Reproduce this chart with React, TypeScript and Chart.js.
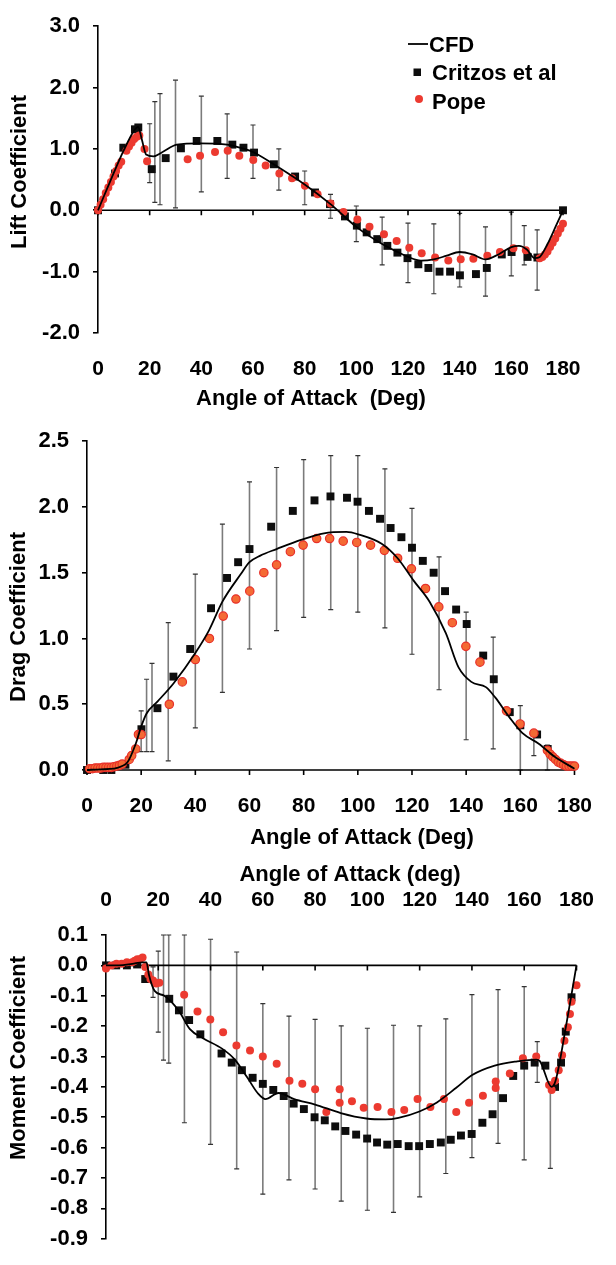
import React, { useEffect, useRef } from "react";
import { Chart, registerables } from "chart.js";
Chart.register(...registerables);

const FONT = "'Liberation Sans', Arial, Helvetica, sans-serif";

// ---------------- Lift ----------------
const liftCfdX = [0, 5, 10, 14, 15.5, 17, 18.6, 21.5, 25, 30.5, 39.5, 50, 56.6, 60, 68, 80, 90, 100, 110, 116, 120, 125, 130, 135, 140, 145, 150, 155, 160, 163, 166, 169, 171, 174, 177, 180];
const liftCfdY = [0, 0.5, 0.98, 1.3, 1.36, 1.15, 0.91, 0.88, 0.95, 1.07, 1.09, 1.07, 1.0, 0.95, 0.75, 0.42, 0.1, -0.27, -0.55, -0.68, -0.76, -0.82, -0.8, -0.74, -0.68, -0.72, -0.8, -0.72, -0.6, -0.58, -0.64, -0.78, -0.76, -0.55, -0.28, 0];
const liftCritX = [0, 6.6, 9.8, 14.3, 15.6, 20.8, 26.2, 32.1, 38.2, 46.2, 52, 56.3, 60.4, 68.1, 76.3, 84, 89.8, 95.6, 100.2, 104, 108.1, 112, 115.9, 119.8, 124, 127.9, 132.2, 136.3, 140.1, 146.3, 150.5, 156.3, 160.1, 166.3, 170.1, 180];
const liftCritY = [0, 0.6, 1.02, 1.32, 1.35, 0.67, 0.85, 1.01, 1.13, 1.13, 1.07, 1.02, 0.94, 0.75, 0.55, 0.29, 0.1, -0.1, -0.25, -0.36, -0.47, -0.58, -0.69, -0.78, -0.88, -0.94, -1.0, -1.0, -1.06, -1.04, -0.94, -0.72, -0.68, -0.76, -0.77, 0];
const liftPopeX = [0, 1, 2, 3, 4, 5, 6, 7, 8, 9, 11, 12, 13, 14, 15, 16, 18, 19, 34.7, 39.5, 45.3, 50.2, 54.7, 60.1, 64.9, 70.2, 75.1, 80.1, 85, 90, 95, 100.4, 105.1, 110.7, 115.6, 120.5, 125.3, 130.5, 135.6, 140.4, 145.3, 150.7, 155.6, 160.8, 165.6, 171, 172, 173, 174, 175, 176, 177, 178, 179, 180];
const liftPopeY = [0, 0.09, 0.18, 0.28, 0.37, 0.46, 0.55, 0.64, 0.73, 0.79, 0.97, 1.04, 1.1, 1.16, 1.2, 1.22, 1.0, 0.8, 0.83, 0.89, 0.95, 0.97, 0.89, 0.82, 0.73, 0.6, 0.52, 0.4, 0.26, 0.11, -0.03, -0.15, -0.27, -0.39, -0.5, -0.61, -0.7, -0.77, -0.82, -0.8, -0.79, -0.74, -0.68, -0.62, -0.65, -0.78, -0.76, -0.72, -0.67, -0.6, -0.53, -0.46, -0.38, -0.3, -0.22];
const liftErrX = [20, 22, 24, 30, 40, 50, 60, 70, 80, 90, 100, 110, 120, 130, 140, 150, 160, 165, 170];
const liftErrLow = [0.45, 0.13, 0.09, 0.04, 0.3, 0.52, 0.52, 0.33, 0.09, -0.13, -0.51, -0.89, -1.18, -1.36, -1.25, -1.4, -1.07, -0.89, -1.3];
const liftErrHigh = [1.41, 1.77, 1.9, 2.12, 1.86, 1.57, 1.39, 1.0, 0.64, 0.26, 0.07, -0.11, -0.21, -0.22, -0.05, -0.27, -0.03, -0.25, -0.32];

// ---------------- Drag ----------------
const dragCfdX = [0, 5, 10, 13, 15, 18, 20, 22, 26, 32, 40, 45, 50, 56.8, 60, 64, 70, 79, 87.5, 95.8, 100.4, 108.8, 114.7, 120.6, 126.5, 132.5, 137.2, 141.9, 147.3, 150.8, 156, 160.8, 166.8, 172.7, 180];
const dragCfdY = [0, 0.005, 0.01, 0.03, 0.06, 0.2, 0.33, 0.43, 0.52, 0.66, 0.89, 1.06, 1.28, 1.49, 1.58, 1.63, 1.68, 1.75, 1.8, 1.81, 1.79, 1.72, 1.61, 1.44, 1.28, 1.04, 0.78, 0.67, 0.63, 0.55, 0.4, 0.28, 0.2, 0.1, 0.01];
const dragCritX = [0, 6, 9, 14.2, 20.1, 26, 31.9, 38.1, 45.8, 51.7, 55.8, 60, 68, 76, 84, 89.9, 96, 99.9, 104.1, 108.2, 112.1, 116.1, 120, 124, 128, 132.2, 136.3, 140.2, 146.3, 150.2, 156.1, 160, 166.2, 170.1];
const dragCritY = [0, 0, 0, 0.04, 0.31, 0.47, 0.71, 0.92, 1.23, 1.46, 1.58, 1.68, 1.85, 1.97, 2.05, 2.08, 2.07, 2.04, 1.97, 1.91, 1.84, 1.77, 1.69, 1.59, 1.5, 1.36, 1.22, 1.11, 0.87, 0.69, 0.44, 0.34, 0.27, 0.16];
const dragPopeX = [1, 2, 3, 4, 5, 6, 7, 8, 9, 10, 11, 12, 13, 15.6, 16.5, 18, 19, 20, 30.4, 35.2, 40, 45.2, 50.3, 55, 60.1, 65.3, 70, 75.1, 79.8, 84.8, 89.6, 94.6, 99.6, 104.7, 109.8, 114.7, 119.8, 125, 129.9, 134.9, 139.9, 145.1, 154.9, 159.9, 165, 170, 171, 172, 173, 174, 175, 176, 177, 178, 179, 180];
const dragPopeY = [0.01, 0.01, 0.015, 0.015, 0.015, 0.02, 0.02, 0.02, 0.02, 0.025, 0.03, 0.035, 0.045, 0.08, 0.11, 0.16, 0.27, 0.27, 0.5, 0.67, 0.84, 1.0, 1.17, 1.3, 1.36, 1.5, 1.56, 1.66, 1.71, 1.76, 1.76, 1.74, 1.73, 1.71, 1.67, 1.61, 1.53, 1.38, 1.24, 1.12, 0.94, 0.82, 0.45, 0.35, 0.28, 0.15, 0.12, 0.1, 0.08, 0.06, 0.05, 0.04, 0.03, 0.03, 0.03, 0.03];
const dragErrX = [20, 22, 24, 30, 40, 50, 60, 70, 80, 90, 100, 110, 120, 130, 140, 150, 160, 165, 170];
const dragErrLow = [0.14, 0.14, 0.14, 0.07, 0.32, 0.59, 0.92, 1.06, 1.16, 1.22, 1.2, 1.08, 0.88, 0.61, 0.23, 0.16, 0.0, 0.11, 0.0];
const dragErrHigh = [0.45, 0.69, 0.81, 1.12, 1.49, 1.87, 2.19, 2.3, 2.36, 2.39, 2.39, 2.29, 1.99, 1.62, 1.2, 1.01, 0.49, 0.28, 0.19];

// ---------------- Moment ----------------
const momCfdX = [0, 5, 10, 14, 15.5, 16.4, 18.6, 22.3, 27.9, 32.1, 37.1, 44.4, 49.3, 54.2, 58, 61, 66, 72, 80, 89.8, 99.6, 107, 111.9, 119.9, 126.6, 134, 140.1, 148.7, 157.3, 164.6, 166, 170.5, 172, 176, 180];
const momCfdY = [0, 0, 0.005, 0.01, 0.01, -0.03, -0.084, -0.1, -0.15, -0.21, -0.24, -0.274, -0.31, -0.371, -0.42, -0.44, -0.42, -0.44, -0.458, -0.486, -0.504, -0.507, -0.502, -0.481, -0.451, -0.403, -0.361, -0.33, -0.316, -0.31, -0.315, -0.4, -0.38, -0.2, 0];
const momCritX = [0, 3.9, 8, 11.9, 15, 24.2, 27.9, 31.8, 36.1, 44.2, 48.1, 52, 56.1, 60, 64, 68, 71.8, 75.7, 79.8, 83.7, 87.7, 91.6, 95.7, 99.9, 103.7, 107.6, 111.6, 115.8, 119.8, 123.9, 128.1, 131.9, 135.8, 139.9, 144, 147.9, 151.9, 155.8, 160, 164, 168.1, 171.8, 174.1, 175.9, 178.1];
const momCritY = [0, 0, 0, 0.003, -0.045, -0.11, -0.148, -0.18, -0.227, -0.29, -0.32, -0.345, -0.37, -0.39, -0.41, -0.43, -0.455, -0.473, -0.5, -0.51, -0.53, -0.545, -0.557, -0.57, -0.583, -0.59, -0.588, -0.595, -0.595, -0.588, -0.583, -0.574, -0.56, -0.555, -0.518, -0.49, -0.437, -0.364, -0.33, -0.32, -0.33, -0.4, -0.32, -0.218, -0.105];
const momPopeX = [0, 2, 4, 6, 8, 10, 11, 12, 13, 14, 15, 16.2, 17, 18, 19.2, 20.4, 29.9, 35, 39.9, 44.8, 49.9, 55.1, 60, 65.3, 70.2, 75.1, 80, 84.3, 89.4, 89.4, 94.1, 98.6, 103.9, 109.2, 114.1, 119.2, 124.1, 129.3, 134, 138.9, 144.2, 149.1, 149.1, 154.5, 159.5, 164.6, 169.5, 170.5, 171.8, 173.2, 174.5, 175.4, 176.7, 177.5, 178.1, 180];
const momPopeY = [-0.01, 0, 0.005, 0.005, 0.01, 0.01, 0.015, 0.02, 0.02, 0.026, -0.005, -0.03, -0.045, -0.05, -0.06, -0.057, -0.097, -0.152, -0.178, -0.22, -0.264, -0.28, -0.3, -0.324, -0.38, -0.39, -0.408, -0.483, -0.408, -0.452, -0.447, -0.469, -0.466, -0.483, -0.476, -0.44, -0.466, -0.44, -0.483, -0.452, -0.429, -0.404, -0.382, -0.356, -0.306, -0.3, -0.394, -0.41, -0.38, -0.345, -0.296, -0.248, -0.204, -0.16, -0.12, -0.065];
const momErrX = [18, 20, 22, 24, 30, 40, 50, 60, 70, 80, 90, 100, 110, 120, 130, 140, 150, 160, 165, 170];
const momErrLow = [-0.105, -0.22, -0.312, -0.322, -0.518, -0.589, -0.67, -0.753, -0.706, -0.736, -0.776, -0.806, -0.813, -0.762, -0.685, -0.633, -0.586, -0.64, -0.385, -0.668];
const momErrHigh = [-0.005, 0.047, 0.1, 0.1, 0.1, 0.086, 0.044, -0.126, -0.167, -0.178, -0.199, -0.207, -0.197, -0.199, -0.176, -0.096, -0.08, -0.07, -0.251, -0.4];

const xTicks = [0, 20, 40, 60, 80, 100, 120, 140, 160, 180];
const legendLabels = ["CFD", "Critzos et al", "Pope"];

const pts = (xs: number[], ys: number[]) => xs.map((x, i) => ({ x, y: ys[i] }));

const RED = "#ec3a30";
const BLACK = "#0d0d0d";

function cfdSet(xs: number[], ys: number[]) {
  return {
    label: legendLabels[0],
    data: pts(xs, ys),
    showLine: true,
    borderColor: "#000",
    borderWidth: 1.8,
    pointRadius: 0,
    cubicInterpolationMode: "monotone",
    clip: false,
    order: 0,
  };
}
function critSet(xs: number[], ys: number[]) {
  return {
    label: legendLabels[1],
    data: pts(xs, ys),
    showLine: false,
    pointStyle: "rect",
    pointRadius: 5.6,
    backgroundColor: BLACK,
    borderColor: BLACK,
    borderWidth: 0,
    clip: false,
    order: 2,
  };
}
function popeSet(xs: number[], ys: number[], orange = false) {
  return {
    label: legendLabels[2],
    data: pts(xs, ys),
    showLine: false,
    pointStyle: "circle",
    pointRadius: orange ? 4.2 : 4,
    backgroundColor: orange ? "#f46a34" : RED,
    borderColor: orange ? "#e8302a" : RED,
    borderWidth: orange ? 1.2 : 0,
    clip: false,
    order: 1,
  };
}

type Title = { text: string; x: number; y: number; rot?: boolean };

type PanelProps = {
  top: number;
  height: number;
  datasets: any[];
  yMin: number;
  yMax: number;
  yStep: number;
  xPos: "top" | "bottom";
  pad: { left: number; right: number; top: number; bottom: number };
  yWidth: number;
  xHeight: number;
  xTickPad: number;
  errX: number[];
  errLow: number[];
  errHigh: number[];
  titles: Title[];
  legend?: boolean;
};

function Panel(p: PanelProps) {
  const ref = useRef<HTMLCanvasElement | null>(null);
  useEffect(() => {
    if (!ref.current) return;
    const errPlugin = {
      id: "errbars",
      beforeDatasetsDraw(chart: any) {
        const { ctx, scales } = chart;
        const xs = scales.x, ys = scales.y;
        ctx.save();
        p.errX.forEach((xv, i) => {
          const px = xs.getPixelForValue(xv);
          const y1 = ys.getPixelForValue(p.errLow[i]);
          const y2 = ys.getPixelForValue(p.errHigh[i]);
          ctx.strokeStyle = "#7b7b7b";
          ctx.lineWidth = 1.6;
          ctx.beginPath();
          ctx.moveTo(px, y1);
          ctx.lineTo(px, y2);
          ctx.stroke();
          ctx.strokeStyle = "#333";
          ctx.lineWidth = 1.2;
          ctx.beginPath();
          ctx.moveTo(px - 2.5, y1);
          ctx.lineTo(px + 2.5, y1);
          ctx.moveTo(px - 2.5, y2);
          ctx.lineTo(px + 2.5, y2);
          ctx.stroke();
        });
        // zero line with tick marks
        const y0 = ys.getPixelForValue(0);
        ctx.strokeStyle = "#000";
        ctx.lineWidth = 1.6;
        ctx.beginPath();
        ctx.moveTo(xs.getPixelForValue(0), y0);
        ctx.lineTo(xs.getPixelForValue(180), y0);
        xTicks.forEach((t) => {
          const tx = xs.getPixelForValue(t);
          ctx.moveTo(tx, y0);
          ctx.lineTo(tx, y0 + 5);
        });
        ctx.stroke();
        ctx.restore();
      },
      afterDraw(chart: any) {
        const { ctx } = chart;
        ctx.save();
        ctx.fillStyle = "#000";
        ctx.font = `bold 22px ${FONT}`;
        ctx.textAlign = "center";
        ctx.textBaseline = "middle";
        p.titles.forEach((t) => {
          ctx.save();
          ctx.translate(t.x, t.y - p.top);
          if (t.rot) ctx.rotate(-Math.PI / 2);
          ctx.fillText(t.text, 0, 0);
          ctx.restore();
        });
        if (p.legend) {
          ctx.textAlign = "left";
          ctx.font = `bold 22px ${FONT}`;
          // CFD
          ctx.strokeStyle = "#000";
          ctx.lineWidth = 1.8;
          ctx.beginPath();
          ctx.moveTo(408, 44);
          ctx.lineTo(428, 44);
          ctx.stroke();
          ctx.fillText(legendLabels[0], 429, 46);
          // Critzos
          ctx.fillStyle = BLACK;
          ctx.fillRect(413.5, 68.5, 7.5, 7.5);
          ctx.fillStyle = "#000";
          ctx.fillText(legendLabels[1], 432, 74);
          // Pope
          ctx.fillStyle = RED;
          ctx.beginPath();
          ctx.arc(419, 99, 4, 0, Math.PI * 2);
          ctx.fill();
          ctx.fillStyle = "#000";
          ctx.fillText(legendLabels[2], 432, 103);
        }
        ctx.restore();
      },
    };

    const chart = new Chart(ref.current, {
      type: "scatter",
      data: { datasets: p.datasets },
      options: {
        animation: false,
        responsive: false,
        maintainAspectRatio: false,
        layout: { padding: p.pad },
        plugins: { legend: { display: false }, tooltip: { enabled: false } },
        scales: {
          x: {
            type: "linear",
            position: p.xPos,
            min: 0,
            max: 180,
            afterBuildTicks: (s: any) => {
              s.ticks = xTicks.map((v) => ({ value: v }));
            },
            afterFit: (s: any) => {
              s.height = p.xHeight;
            },
            grid: { display: false, drawTicks: false },
            border: { display: false },
            ticks: {
              padding: p.xTickPad,
              color: "#000",
              font: { family: FONT, size: 21, weight: "bold" },
              maxRotation: 0,
              callback: (v: any) => String(v),
            },
          },
          y: {
            type: "linear",
            min: p.yMin,
            max: p.yMax,
            afterFit: (s: any) => {
              s.width = p.yWidth;
            },
            grid: {
              drawOnChartArea: false,
              drawTicks: true,
              tickLength: 5,
              color: "#000",
              lineWidth: 1.6,
            },
            border: { display: true, color: "#000", width: 1.6 },
            ticks: {
              stepSize: p.yStep,
              padding: 13,
              color: "#000",
              font: { family: FONT, size: 22, weight: "bold" },
              callback: (v: any) => (Math.abs(v) < 1e-9 ? "0.0" : Number(v).toFixed(1)),
            },
          },
        },
      },
      plugins: [errPlugin],
    } as any);
    return () => chart.destroy();
  }, []);
  return (
    <canvas
      ref={ref}
      width={616}
      height={p.height}
      style={{ position: "absolute", left: 0, top: p.top, width: 616, height: p.height }}
    />
  );
}

export default function App() {
  return (
    <div style={{ position: "absolute", left: 0, top: 0, width: 616, height: 1265, background: "#fff" }}>
      <Panel
        top={0}
        height={415}
        datasets={[cfdSet(liftCfdX, liftCfdY), critSet(liftCritX, liftCritY), popeSet(liftPopeX, liftPopeY)]}
        yMin={-2}
        yMax={3}
        yStep={1}
        xPos="bottom"
        pad={{ left: 0, right: 53, top: 16, bottom: 415 - 333 - 60 }}
        yWidth={98}
        xHeight={60}
        xTickPad={24}
        errX={liftErrX}
        errLow={liftErrLow}
        errHigh={liftErrHigh}
        titles={[
          { text: "Lift Coefficient", x: 20, y: 172, rot: true },
          { text: "Angle of Attack  (Deg)", x: 311, y: 399 },
        ]}
        legend
      />
      <Panel
        top={415}
        height={440}
        datasets={[cfdSet(dragCfdX, dragCfdY), critSet(dragCritX, dragCritY), popeSet(dragPopeX, dragPopeY, true)]}
        yMin={0}
        yMax={2.5}
        yStep={0.5}
        xPos="bottom"
        pad={{ left: 0, right: 22, top: 25, bottom: 440 - 355 - 60 }}
        yWidth={87}
        xHeight={60}
        xTickPad={24}
        errX={dragErrX}
        errLow={dragErrLow}
        errHigh={dragErrHigh}
        titles={[
          { text: "Drag Coefficient", x: 19, y: 617, rot: true },
          { text: "Angle of Attack (Deg)", x: 362, y: 838 },
        ]}
      />
      <Panel
        top={855}
        height={410}
        datasets={[cfdSet(momCfdX, momCfdY), critSet(momCritX, momCritY), popeSet(momPopeX, momPopeY)]}
        yMin={-0.9}
        yMax={0.1}
        yStep={0.1}
        xPos="top"
        pad={{ left: 0, right: 21, top: 0, bottom: 12 }}
        yWidth={106}
        xHeight={80}
        xTickPad={22}
        errX={momErrX}
        errLow={momErrLow}
        errHigh={momErrHigh}
        titles={[
          { text: "Moment Coefficient", x: 19, y: 1058, rot: true },
          { text: "Angle of Attack (deg)", x: 350, y: 875 },
        ]}
      />
    </div>
  );
}
